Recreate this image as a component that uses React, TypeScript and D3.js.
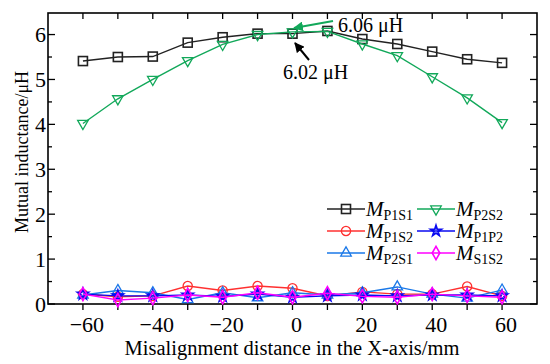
import { useEffect, useRef } from "react";
import * as d3 from "d3";

// misalignment positions (mm)
const xPos = [-60, -50, -40, -30, -20, -10, 0, 10, 20, 30, 40, 50, 60];

const mP1S1 = [5.41, 5.5, 5.51, 5.82, 5.94, 6.02, 6.02, 6.08, 5.9, 5.79, 5.62, 5.45, 5.37];
const mP2S2 = [4.02, 4.57, 5.0, 5.42, 5.78, 6.0, 6.06, 6.07, 5.79, 5.53, 5.06, 4.59, 4.04];
const mP1S2 = [0.22, 0.16, 0.18, 0.4, 0.3, 0.4, 0.35, 0.18, 0.27, 0.22, 0.22, 0.39, 0.18];
const mP2S1 = [0.2, 0.3, 0.25, 0.1, 0.25, 0.14, 0.25, 0.2, 0.25, 0.38, 0.22, 0.13, 0.31];
const mP1P2 = [0.22, 0.18, 0.18, 0.2, 0.17, 0.22, 0.15, 0.18, 0.2, 0.18, 0.2, 0.2, 0.18];
const mS1S2 = [0.22, 0.09, 0.13, 0.2, 0.15, 0.25, 0.15, 0.24, 0.17, 0.15, 0.22, 0.18, 0.15];

const xTicks = [-60, -50, -40, -30, -20, -10, 0, 10, 20, 30, 40, 50, 60];
const xLabels = [-60, -40, -20, 0, 20, 40, 60];
const yMajor = [0, 1, 2, 3, 4, 5, 6];
const yMinor = [0.5, 1.5, 2.5, 3.5, 4.5, 5.5];

type Series = { sub: string; values: number[]; color: string; marker: string };

const series: Series[] = [
  { sub: "P1S1", values: mP1S1, color: "#222222", marker: "square" },
  { sub: "P2S2", values: mP2S2, color: "#12a85a", marker: "triDown" },
  { sub: "P1S2", values: mP1S2, color: "#ff3030", marker: "circle" },
  { sub: "P2S1", values: mP2S1, color: "#1a78e8", marker: "triUp" },
  { sub: "P1P2", values: mP1P2, color: "#0a0af0", marker: "star" },
  { sub: "S1S2", values: mS1S2, color: "#ff00ff", marker: "diamond" },
];

// legend order: two columns
const legendOrder = ["P1S1", "P2S2", "P1S2", "P1P2", "P2S1", "S1S2"];

const FONT = "'Liberation Serif', 'DejaVu Serif', serif";

function drawMarker(g: d3.Selection<SVGGElement, unknown, null, undefined>, kind: string, color: string) {
  const sw = 1.3;
  if (kind === "square") {
    g.append("rect").attr("x", -4.5).attr("y", -4.5).attr("width", 9).attr("height", 9)
      .attr("fill", "none").attr("stroke", color).attr("stroke-width", 1.6);
  } else if (kind === "circle") {
    g.append("circle").attr("r", 4.6).attr("fill", "none").attr("stroke", color).attr("stroke-width", sw);
  } else if (kind === "triDown") {
    g.append("path").attr("d", d3.symbol(d3.symbolTriangle, 48)()!).attr("transform", "rotate(180)")
      .attr("fill", "none").attr("stroke", color).attr("stroke-width", sw);
  } else if (kind === "triUp") {
    g.append("path").attr("d", d3.symbol(d3.symbolTriangle, 48)()!)
      .attr("fill", "none").attr("stroke", color).attr("stroke-width", sw);
  } else if (kind === "star") {
    g.append("path").attr("d", d3.symbol(d3.symbolStar, 34)()!)
      .attr("fill", "none").attr("stroke", color).attr("stroke-width", 1.8);
  } else if (kind === "diamond") {
    g.append("path").attr("d", d3.symbol(d3.symbolDiamond, 50)()!)
      .attr("fill", "none").attr("stroke", color).attr("stroke-width", 1.6);
  }
}

export default function App() {
  const ref = useRef<SVGSVGElement>(null);

  useEffect(() => {
    const svg = d3.select(ref.current);
    svg.selectAll("*").remove();

    const left = 48, right = 537, top = 13, bottom = 304;
    const x = d3.scaleLinear().domain([-70, 70]).range([left, right]);
    const y = d3.scaleLinear().domain([0, 6.48]).range([bottom, top]);

    const defs = svg.append("defs");
    [["arrGreen", "#12a85a"], ["arrBlack", "#000"]].forEach(([id, c]) => {
      defs.append("marker").attr("id", id).attr("viewBox", "0 0 10 10").attr("refX", 9).attr("refY", 5)
        .attr("markerWidth", 5).attr("markerHeight", 5).attr("orient", "auto")
        .append("path").attr("d", "M0,0 L10,5 L0,10 z").attr("fill", c);
    });

    // frame
    svg.append("rect").attr("x", left).attr("y", top).attr("width", right - left).attr("height", bottom - top)
      .attr("fill", "none").attr("stroke", "#000").attr("stroke-width", 1.6);

    const ticks = svg.append("g").attr("stroke", "#000").attr("stroke-width", 1.3);
    xTicks.forEach((t) => {
      ticks.append("line").attr("x1", x(t)).attr("x2", x(t)).attr("y1", bottom).attr("y2", bottom + 6);
      ticks.append("line").attr("x1", x(t)).attr("x2", x(t)).attr("y1", top).attr("y2", top + 6);
    });
    yMajor.forEach((t) => {
      ticks.append("line").attr("x1", left).attr("x2", left + 7).attr("y1", y(t)).attr("y2", y(t));
      ticks.append("line").attr("x1", right).attr("x2", right - 7).attr("y1", y(t)).attr("y2", y(t));
    });
    yMinor.forEach((t) => {
      ticks.append("line").attr("x1", left).attr("x2", left + 4).attr("y1", y(t)).attr("y2", y(t));
      ticks.append("line").attr("x1", right).attr("x2", right - 4).attr("y1", y(t)).attr("y2", y(t));
    });

    const txt = svg.append("g").attr("font-family", FONT).attr("fill", "#000");
    xLabels.forEach((t) => {
      txt.append("text").attr("x", x(t) + 4).attr("y", 332).attr("text-anchor", "middle")
        .attr("font-size", 22).text(t < 0 ? `\u2212${-t}` : `${t}`);
    });
    yMajor.forEach((t) => {
      txt.append("text").attr("x", left - 2).attr("y", y(t) + 7.5).attr("text-anchor", "end")
        .attr("font-size", 22).text(`${t}`);
    });
    txt.append("text").attr("x", 292).attr("y", 355).attr("text-anchor", "middle").attr("font-size", 20.5)
      .text("Misalignment distance in the X-axis/mm");
    txt.append("text").attr("transform", "translate(28,152) rotate(-90)").attr("text-anchor", "middle")
      .attr("font-size", 18).text("Mutual inductance/\u03bcH");

    // series
    const line = d3.line<number>().x((_, i) => x(xPos[i])).y((d) => y(d));
    series.forEach((s) => {
      svg.append("path").attr("d", line(s.values)!).attr("fill", "none")
        .attr("stroke", s.color).attr("stroke-width", 1.4);
      s.values.forEach((v, i) => {
        const g = svg.append("g").attr("transform", `translate(${x(xPos[i])},${y(v)})`);
        drawMarker(g, s.marker, s.color);
      });
    });

    // annotations
    svg.append("line").attr("x1", 333).attr("y1", 21).attr("x2", 294).attr("y2", 28)
      .attr("stroke", "#12a85a").attr("stroke-width", 2).attr("marker-end", "url(#arrGreen)");
    svg.append("line").attr("x1", 309).attr("y1", 60).attr("x2", 295).attr("y2", 43)
      .attr("stroke", "#000").attr("stroke-width", 2).attr("marker-end", "url(#arrBlack)");
    txt.append("text").attr("x", 338).attr("y", 32).attr("font-size", 20).text("6.06 \u03bcH");
    txt.append("text").attr("x", 283).attr("y", 79).attr("font-size", 20).text("6.02 \u03bcH");

    // legend
    const rowY = [209, 231, 253];
    const colX = [327, 417];
    legendOrder.forEach((sub, k) => {
      const s = series.find((d) => d.sub === sub)!;
      const cx = colX[k % 2], cy = rowY[Math.floor(k / 2)];
      svg.append("line").attr("x1", cx).attr("x2", cx + 38).attr("y1", cy).attr("y2", cy)
        .attr("stroke", s.color).attr("stroke-width", 1.4);
      drawMarker(svg.append("g").attr("transform", `translate(${cx + 19},${cy})`), s.marker, s.color);
      const t = txt.append("text").attr("x", cx + 39).attr("y", cy + 7);
      t.append("tspan").attr("font-size", 21).attr("font-style", "italic").text("M");
      t.append("tspan").attr("font-size", 14).attr("dy", 4).text(sub);
    });
  }, []);

  return (
    <svg ref={ref} width={550} height={364} style={{ position: "absolute", left: 0, top: 0, background: "#fff" }} />
  );
}
